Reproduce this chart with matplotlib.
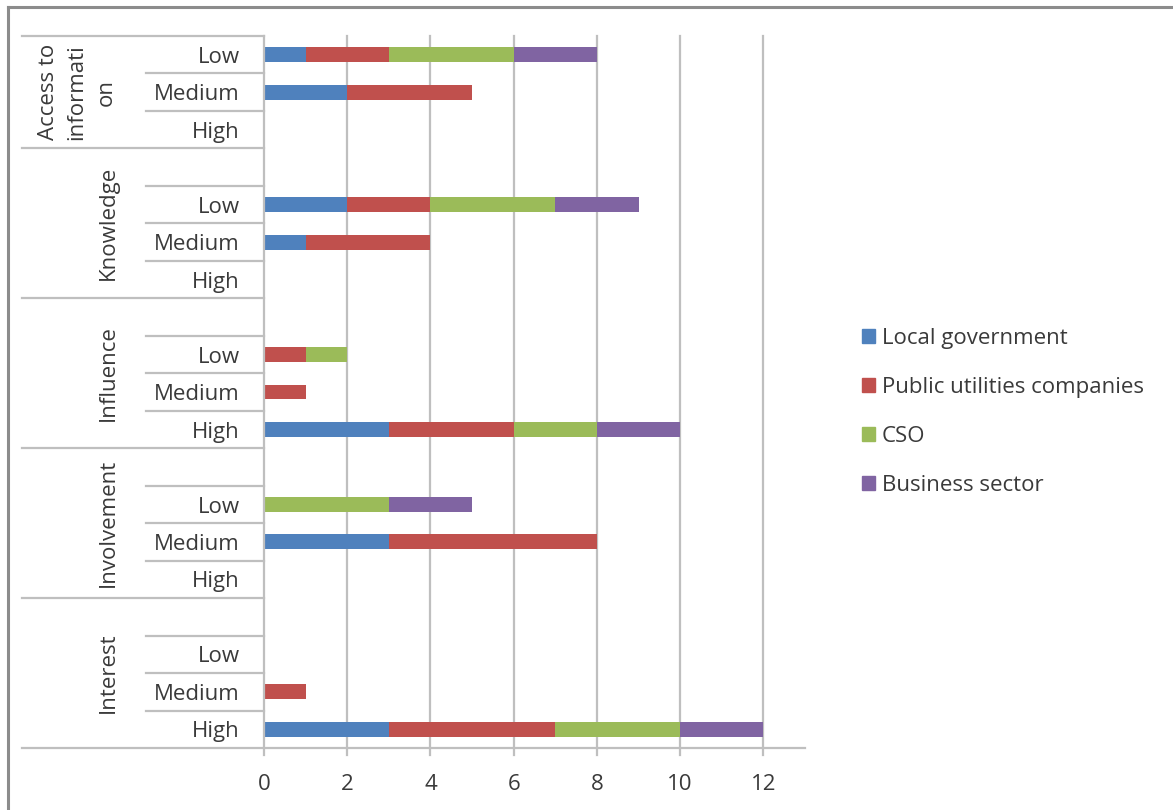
import matplotlib
matplotlib.use("Agg")
import matplotlib.pyplot as plt
from matplotlib.lines import Line2D
from matplotlib.transforms import blended_transform_factory

plt.rcParams['font.family'] = ['Open Sans', 'DejaVu Sans']

# Groups (top to bottom) and the levels shown in each group
groups = ["Access to\ninformati\non", "Knowledge", "Influence", "Involvement", "Interest"]
levels = ["Low", "Medium", "High"]
series = ["Local government", "Public utilities companies", "CSO", "Business sector"]
colors = ["#4F81BD", "#C0504D", "#9BBB59", "#8064A2"]

# Values per group, per level (Low, Medium, High)
local_government = [[1, 2, 0], [2, 1, 0], [0, 0, 3], [0, 3, 0], [0, 0, 3]]
public_utilities = [[2, 3, 0], [2, 3, 0], [1, 1, 3], [0, 5, 0], [0, 1, 4]]
cso = [[3, 0, 0], [3, 0, 0], [1, 0, 2], [3, 0, 0], [0, 0, 3]]
business_sector = [[2, 0, 0], [2, 0, 0], [0, 0, 2], [2, 0, 0], [0, 0, 2]]
x_ticks = [0, 2, 4, 6, 8, 10, 12]

W, H = 1173, 810
FS = 16
TXT = "#3A3A3A"
fig = plt.figure(figsize=(W / 100, H / 100), dpi=100)


def fx(px):
    return px / W


def fy(py):
    return 1 - py / H


ax = fig.add_axes([fx(264), fy(748), fx(805) - fx(264), fy(36) - fy(748)])
ax_w = 805 - 264

# Row layout: first group has no blank spacer row, the others start with one
rows = []
for gi, g in enumerate(groups):
    if gi > 0:
        rows.append((gi, None))
    for li in range(len(levels)):
        rows.append((gi, li))
n_rows = len(rows)

all_series = [local_government, public_utilities, cso, business_sector]
for si, (name, col) in enumerate(zip(series, colors)):
    ys, widths, lefts = [], [], []
    for ri, (gi, li) in enumerate(rows):
        if li is None:
            continue
        left = sum(all_series[k][gi][li] for k in range(si))
        ys.append(ri)
        widths.append(all_series[si][gi][li])
        lefts.append(left)
    ax.barh(ys, widths, left=lefts, height=0.4, color=col, label=name, zorder=3)

ax.set_xlim(0, 13)
ax.set_ylim(n_rows - 0.5, -0.5)
ax.set_xticks(x_ticks)
ax.set_yticks([])
for s in ax.spines.values():
    s.set_visible(False)

grid_c = "#BFBFBF"
for t in x_ticks[1:]:
    ax.plot([t, t], [-0.5, n_rows - 0.5 + 0.19], color=grid_c, lw=1.6, clip_on=False, zorder=1)
ax.plot([0, 0], [-0.5, n_rows - 0.5 + 0.19], color=grid_c, lw=1.6, clip_on=False, zorder=4)
ax.tick_params(axis='x', length=0, pad=19, labelsize=FS, labelcolor=TXT)

# Category axis drawn in the left margin
tr = blended_transform_factory(ax.transAxes, ax.transData)
x_outer = (22 - 264) / ax_w
x_inner = (146 - 264) / ax_w
ax.plot([x_outer, 1.0], [n_rows - 0.5] * 2, transform=tr, color=grid_c, lw=1.6, clip_on=False)
ax.plot([x_outer, 0], [-0.5] * 2, transform=tr, color=grid_c, lw=1.6, clip_on=False)

for ri, (gi, li) in enumerate(rows):
    if li is not None:
        ax.text((240 - 264) / ax_w, ri + 0.07, levels[li], transform=tr, ha="right", va="center",
                fontsize=FS, color=TXT)
    if ri == n_rows - 1:
        continue
    b = ri + 0.5
    nxt = rows[ri + 1]
    x0 = x_outer if nxt[1] is None else x_inner
    ax.plot([x0, 0], [b, b], transform=tr, color=grid_c, lw=1.6, clip_on=False)

for gi, g in enumerate(groups):
    idx = [ri for ri, r in enumerate(rows) if r[0] == gi]
    yc = (min(idx) + max(idx)) / 2
    xc = (108 - 264) / ax_w if gi > 0 else (77 - 264) / ax_w
    ax.text(xc, yc, g, transform=tr, ha="center", va="center", rotation=90,
            fontsize=FS, color=TXT, multialignment="center", linespacing=1.5)

# Legend
handles = [plt.Rectangle((0, 0), 1, 1, color=c) for c in colors]
fig.legend(handles, series, loc="upper left", bbox_to_anchor=(fx(853), fy(319)),
           frameon=False, fontsize=FS, handlelength=0.6, handleheight=0.6,
           handletextpad=0.3, labelspacing=1.26, labelcolor=TXT, borderaxespad=0)

# Chart area border (top and left edges)
fig.add_artist(Line2D([fx(8), 1.0], [fy(7), fy(7)], color="#8C8C8C", lw=2.2))
fig.add_artist(Line2D([fx(8), fx(8)], [fy(7), 0.0], color="#8C8C8C", lw=2.2))

fig.savefig("out.png", dpi=100, facecolor="white")
